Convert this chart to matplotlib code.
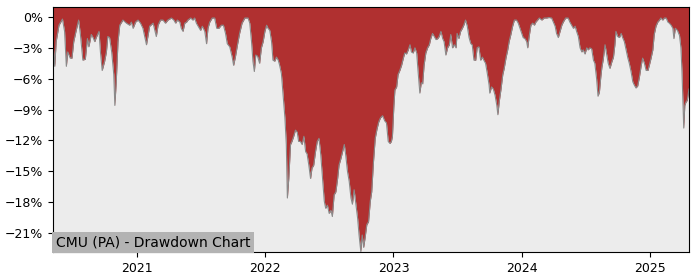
import pandas as pd
import matplotlib
matplotlib.use("Agg")
from matplotlib import pyplot as plt
from matplotlib import dates as mdates
from matplotlib.ticker import PercentFormatter

TITLE = "CMU (PA) - Drawdown Chart"

dates = [
    "2020-05-07", "2020-05-12", "2020-05-16", "2020-05-24", "2020-06-03", "2020-06-09",
    "2020-06-14", "2020-06-18", "2020-06-25", "2020-06-30", "2020-07-05", "2020-07-12",
    "2020-07-19", "2020-07-24", "2020-07-31", "2020-08-07", "2020-08-13", "2020-08-17",
    "2020-08-24", "2020-08-29", "2020-09-03", "2020-09-07", "2020-09-15", "2020-09-19",
    "2020-09-24", "2020-10-01", "2020-10-06", "2020-10-10", "2020-10-15", "2020-10-21",
    "2020-10-27", "2020-10-30", "2020-11-03", "2020-11-08", "2020-11-13", "2020-11-22",
    "2020-12-02", "2020-12-11", "2020-12-16", "2020-12-21", "2020-12-28", "2021-01-04",
    "2021-01-11", "2021-01-18", "2021-01-28", "2021-02-06", "2021-02-16", "2021-02-25",
    "2021-03-02", "2021-03-09", "2021-03-16", "2021-03-23", "2021-03-30", "2021-04-09",
    "2021-04-16", "2021-04-21", "2021-04-26", "2021-05-03", "2021-05-07", "2021-05-12",
    "2021-05-17", "2021-05-22", "2021-05-26", "2021-06-03", "2021-06-09", "2021-06-14",
    "2021-06-19", "2021-06-24", "2021-07-01", "2021-07-06", "2021-07-13", "2021-07-18",
    "2021-07-22", "2021-07-27", "2021-08-03", "2021-08-10", "2021-08-16", "2021-08-22",
    "2021-08-29", "2021-09-04", "2021-09-10", "2021-09-15", "2021-09-22", "2021-09-29",
    "2021-10-03", "2021-10-08", "2021-10-14", "2021-10-20", "2021-10-27", "2021-11-04",
    "2021-11-13", "2021-11-18", "2021-11-23", "2021-11-27", "2021-12-01", "2021-12-05",
    "2021-12-10", "2021-12-16", "2021-12-21", "2021-12-26", "2021-12-31", "2022-01-05",
    "2022-01-09", "2022-01-14", "2022-01-19", "2022-01-23", "2022-01-28", "2022-02-02",
    "2022-02-07", "2022-02-11", "2022-02-16", "2022-02-21", "2022-02-26", "2022-03-02",
    "2022-03-05", "2022-03-09", "2022-03-14", "2022-03-18", "2022-03-23", "2022-03-28",
    "2022-04-02", "2022-04-06", "2022-04-11", "2022-04-16", "2022-04-21", "2022-04-26",
    "2022-04-30", "2022-05-05", "2022-05-10", "2022-05-14", "2022-05-19", "2022-05-24",
    "2022-05-29", "2022-06-03", "2022-06-08", "2022-06-13", "2022-06-18", "2022-06-22",
    "2022-06-27", "2022-07-02", "2022-07-07", "2022-07-11", "2022-07-16", "2022-07-21",
    "2022-07-26", "2022-07-30", "2022-08-04", "2022-08-09", "2022-08-14", "2022-08-18",
    "2022-08-23", "2022-08-28", "2022-09-02", "2022-09-06", "2022-09-11", "2022-09-16",
    "2022-09-21", "2022-09-25", "2022-09-30", "2022-10-04", "2022-10-08", "2022-10-12",
    "2022-10-17", "2022-10-22", "2022-10-27", "2022-10-31", "2022-11-05", "2022-11-10",
    "2022-11-15", "2022-11-20", "2022-11-25", "2022-12-01", "2022-12-07", "2022-12-12",
    "2022-12-17", "2022-12-22", "2022-12-26", "2022-12-29", "2023-01-02", "2023-01-05",
    "2023-01-10", "2023-01-14", "2023-01-19", "2023-01-24", "2023-01-29", "2023-02-02",
    "2023-02-07", "2023-02-12", "2023-02-17", "2023-02-21", "2023-02-26", "2023-03-03",
    "2023-03-08", "2023-03-12", "2023-03-17", "2023-03-21", "2023-03-25", "2023-03-29",
    "2023-04-03", "2023-04-08", "2023-04-13", "2023-04-17", "2023-04-22", "2023-04-27",
    "2023-05-02", "2023-05-07", "2023-05-11", "2023-05-16", "2023-05-21", "2023-05-25",
    "2023-05-30", "2023-06-04", "2023-06-09", "2023-06-13", "2023-06-18", "2023-06-23",
    "2023-06-28", "2023-07-01", "2023-07-06", "2023-07-11", "2023-07-16", "2023-07-20",
    "2023-07-25", "2023-07-30", "2023-08-04", "2023-08-09", "2023-08-13", "2023-08-18",
    "2023-08-23", "2023-08-27", "2023-09-01", "2023-09-06", "2023-09-11", "2023-09-15",
    "2023-09-20", "2023-09-25", "2023-09-30", "2023-10-02", "2023-10-07", "2023-10-12",
    "2023-10-17", "2023-10-22", "2023-10-25", "2023-10-29", "2023-11-03", "2023-11-08",
    "2023-11-12", "2023-11-17", "2023-11-22", "2023-11-26", "2023-12-01", "2023-12-06",
    "2023-12-11", "2023-12-17", "2023-12-22", "2023-12-27", "2024-01-01", "2024-01-05",
    "2024-01-10", "2024-01-15", "2024-01-18", "2024-01-22", "2024-01-27", "2024-02-01",
    "2024-02-06", "2024-02-10", "2024-02-15", "2024-02-20", "2024-02-27", "2024-03-05",
    "2024-03-12", "2024-03-18", "2024-03-26", "2024-03-31", "2024-04-05", "2024-04-09",
    "2024-04-14", "2024-04-19", "2024-04-24", "2024-04-28", "2024-05-05", "2024-05-12",
    "2024-05-17", "2024-05-22", "2024-05-27", "2024-06-01", "2024-06-05", "2024-06-10",
    "2024-06-15", "2024-06-20", "2024-06-24", "2024-06-29", "2024-07-04", "2024-07-08",
    "2024-07-13", "2024-07-18", "2024-07-23", "2024-07-27", "2024-08-01", "2024-08-05",
    "2024-08-09", "2024-08-13", "2024-08-16", "2024-08-20", "2024-08-25", "2024-08-30",
    "2024-09-03", "2024-09-08", "2024-09-13", "2024-09-18", "2024-09-22", "2024-09-25",
    "2024-09-30", "2024-10-05", "2024-10-10", "2024-10-14", "2024-10-19", "2024-10-24",
    "2024-10-29", "2024-11-02", "2024-11-07", "2024-11-12", "2024-11-16", "2024-11-21",
    "2024-11-26", "2024-12-01", "2024-12-06", "2024-12-10", "2024-12-15", "2024-12-20",
    "2024-12-25", "2024-12-29", "2025-01-03", "2025-01-08", "2025-01-12", "2025-01-17",
    "2025-01-22", "2025-01-27", "2025-01-31", "2025-02-05", "2025-02-10", "2025-02-15",
    "2025-02-20", "2025-02-24", "2025-03-01", "2025-03-06", "2025-03-09", "2025-03-13",
    "2025-03-19", "2025-03-25", "2025-03-29", "2025-04-01", "2025-04-04", "2025-04-06",
    "2025-04-09", "2025-04-12", "2025-04-16", "2025-04-21",
]

drawdown = [
    -2.4, -4.8, -2.4, -0.8, -0.2, -1.4,
    -4.8, -3.4, -4.0, -4.0, -2.4, -1.3,
    -0.3, -1.7, -4.2, -4.1, -2.1, -2.9,
    -1.7, -2.0, -2.4, -2.0, -1.4, -3.4,
    -5.2, -4.3, -3.4, -1.9, -2.0, -3.4,
    -5.6, -8.6, -6.3, -2.4, -0.8, -0.3,
    -0.6, -0.8, -0.5, -1.1, -0.5, -0.3,
    -0.6, -1.1, -2.7, -0.9, -0.6, -1.9,
    -0.8, -0.3, -0.3, -0.6, -0.3, -0.1,
    -0.3, -0.6, -0.3, -0.5, -1.1, -1.4,
    -0.6, -0.5, -0.3, -0.1, -0.3, -0.1,
    -0.6, -0.9, -1.3, -0.9, -1.4, -2.6,
    -1.1, -0.5, -0.1, -0.1, -1.1, -1.1,
    -0.8, -0.8, -1.6, -2.6, -2.9, -3.9,
    -4.7, -3.9, -2.7, -1.6, -0.6, -0.1,
    -0.1, -0.6, -2.4, -4.3, -5.3, -3.7,
    -3.8, -4.5, -3.0, -2.4, -1.4, -0.8,
    -1.1, -1.3, -2.4, -4.2, -4.3, -3.9,
    -4.2, -4.7, -5.5, -7.6, -9.8, -12.4,
    -17.6, -15.7, -12.4, -12.1, -11.6, -11.0,
    -11.2, -12.1, -12.1, -12.4, -11.6, -13.1,
    -13.3, -14.4, -15.7, -14.7, -14.4, -13.1,
    -12.1, -11.8, -13.4, -15.7, -17.9, -18.6,
    -18.3, -19.1, -18.8, -19.4, -17.3, -17.0,
    -15.7, -14.4, -13.8, -13.1, -12.4, -13.4,
    -15.0, -16.0, -17.6, -18.2, -16.8, -18.2,
    -19.6, -21.2, -22.8, -21.2, -22.4, -21.5,
    -20.2, -19.9, -17.9, -17.0, -14.1, -11.8,
    -10.9, -10.2, -9.8, -9.6, -10.1, -10.3,
    -12.1, -12.3, -12.1, -11.6, -8.7, -7.1,
    -6.8, -5.6, -5.2, -4.7, -4.0, -3.5,
    -3.6, -3.2, -2.7, -3.4, -3.5, -3.0,
    -3.5, -5.3, -7.4, -6.4, -6.5, -4.7,
    -3.5, -3.0, -2.7, -2.1, -1.6, -1.9,
    -2.2, -2.1, -1.9, -1.4, -2.1, -2.4,
    -3.7, -3.0, -2.7, -1.7, -3.0, -2.7,
    -3.0, -1.6, -2.1, -1.4, -1.1, -0.8,
    -0.3, -0.9, -2.0, -2.6, -2.7, -4.2,
    -4.2, -3.0, -2.9, -4.2, -3.9, -4.2,
    -4.5, -5.5, -6.6, -7.4, -6.8, -7.0,
    -7.6, -8.6, -9.5, -8.2, -7.0, -5.6,
    -5.0, -4.0, -3.2, -2.4, -1.7, -0.9,
    -0.3, -0.3, -0.6, -1.1, -1.6, -2.0,
    -2.1, -2.4, -3.0, -1.9, -0.8, -0.6,
    -0.8, -0.5, -0.3, -0.1, -0.3, -0.1,
    -0.1, -0.05, -0.1, -0.5, -0.9, -1.6,
    -2.0, -1.4, -0.8, -0.5, -0.1, -0.1,
    -0.5, -0.8, -1.1, -0.9, -1.4, -1.9,
    -3.0, -3.4, -3.2, -3.6, -3.0, -3.2,
    -3.0, -3.1, -4.2, -4.5, -6.0, -7.7,
    -7.3, -5.8, -4.9, -4.1, -2.7, -3.7,
    -4.5, -5.0, -4.4, -3.9, -2.7, -1.4,
    -1.9, -2.0, -1.6, -2.0, -2.4, -3.2,
    -4.0, -4.5, -5.3, -6.3, -6.6, -6.9,
    -6.7, -5.8, -4.7, -4.0, -4.5, -5.2,
    -5.2, -4.7, -4.0, -3.2, -1.7, -0.9,
    -0.5, -0.3, -0.1, -0.3, -0.1, -0.1,
    -0.5, -0.6, -0.8, -1.1, -2.1, -1.1,
    -1.3, -1.8, -3.0, -5.3, -8.6, -10.8,
    -8.6, -8.3, -8.1, -7.0,
]

yticks = [0, -3, -6, -9, -12, -15, -18, -21]

df = pd.DataFrame({"date": pd.to_datetime(dates), "dd": drawdown})

fig = plt.figure(figsize=(7, 2.8), dpi=100)
ax = fig.add_axes([0.0757, 0.1, 0.9086, 0.875])
ax.set_facecolor("#ececec")

ax.fill_between(df["date"], df["dd"], 1.0, color="#b03030", linewidth=0)
ax.plot(df["date"], df["dd"], color="#8a8a8a", linewidth=0.8)

ax.set_xlim(df["date"].iloc[0], df["date"].iloc[-1])
ax.set_ylim(-22.85, 0.97)
ax.set_yticks(yticks)
ax.yaxis.set_major_formatter(PercentFormatter(decimals=0))
ax.xaxis.set_major_locator(mdates.YearLocator())
ax.xaxis.set_major_formatter(mdates.DateFormatter("%Y"))
ax.tick_params(labelsize=9)

ax.text(0.004, 0.012, TITLE, transform=ax.transAxes, fontsize=10,
        ha="left", va="bottom",
        bbox=dict(facecolor="#b3b3b3", edgecolor="none", pad=2.5))

fig.savefig("out.png", dpi=100)
